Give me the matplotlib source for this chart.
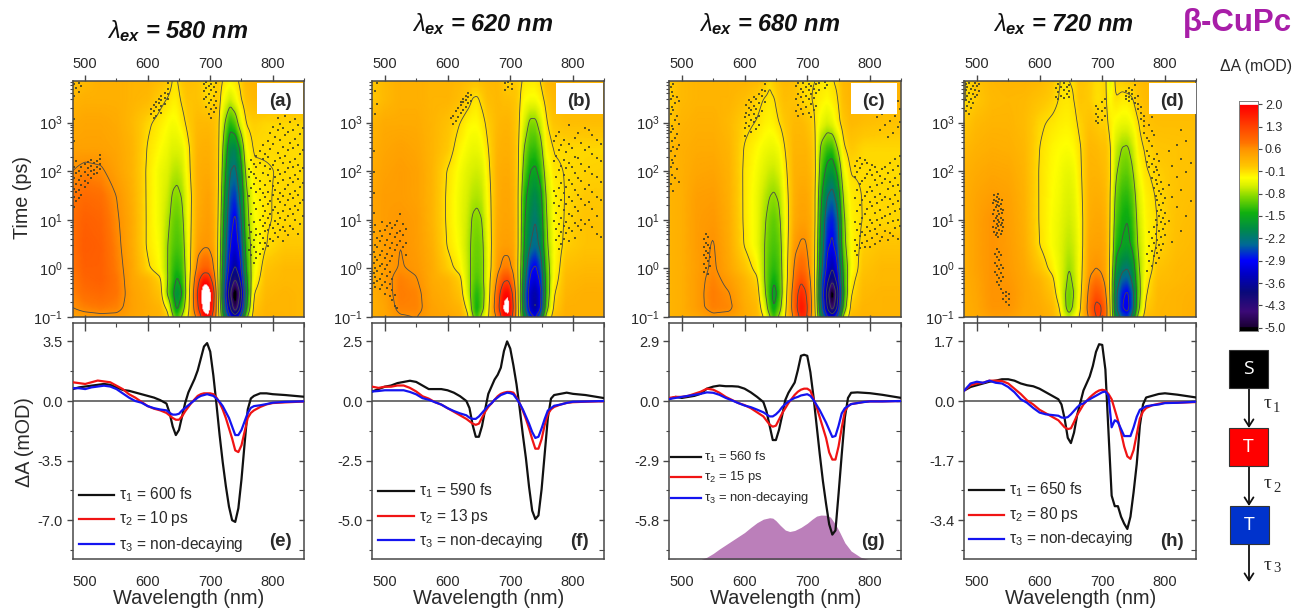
import numpy as np
import matplotlib
matplotlib.use('Agg')
import matplotlib.pyplot as plt
from matplotlib.colors import LinearSegmentedColormap
from matplotlib.lines import Line2D
from matplotlib.patches import Rectangle, FancyArrowPatch

plt.rcParams['font.family'] = ['Liberation Sans', 'DejaVu Sans']
plt.rcParams['mathtext.fontset'] = 'custom'
plt.rcParams['mathtext.rm'] = 'Liberation Sans'
plt.rcParams['mathtext.it'] = 'Liberation Sans:italic'
plt.rcParams['mathtext.bf'] = 'Liberation Sans:bold:italic'

W, H = 1293, 608
TXT = '#2a2a2a'
EDGE = '#484848'

# heatmap grid
map_wl = [480, 500, 525, 550, 575, 600, 620, 632, 640, 647, 655, 665, 680, 690, 697, 705, 713, 722, 732, 740, 748, 758, 770, 790, 820, 850]
map_t = [0.1, 0.15, 0.3, 0.6, 1, 3, 10, 30, 100, 300, 1000, 3000, 7000]

map_a = [
 [.4, .45, .5, .5, .4, .3, .25, .05, -.7, -1.2, -.7, -.05, .75, 1.7, 1.9, 1.0, .1, -1.6, -2.8, -3.2, -2.6, -.9, .15, .25, .25, .2],
 [.6, .7, .75, .7, .45, .35, .25, -.2, -1.1, -1.6, -1.1, -.2, 1.2, 2.2, 2.3, 1.4, .0, -2, -3.6, -4.8, -3.6, -1.5, .05, .25, .25, .2],
 [.7, .85, .9, .8, .45, .3, .1, -.9, -1.4, -1.9, -1.5, -.3, 1.4, 2.5, 2.5, 1.6, -.15, -2.3, -4.2, -5.5, -4.2, -1.8, -.1, .2, .25, .2],
 [.75, .95, 1.0, .8, .4, .25, -.05, -.8, -1.25, -1.55, -1.3, -.35, 1.1, 1.75, 1.7, 1.0, -.2, -2.1, -3.6, -4.3, -3.5, -1.6, -.3, .15, .2, .2],
 [.8, 1, 1, .75, .4, -.05, -.3, -.8, -1.2, -1.35, -1.2, -.35, .75, 1.0, 1.0, .65, -.2, -2.0, -3.2, -3.7, -3.1, -1.4, -.4, .1, .2, .2],
 [.85, 1.05, 1, .7, .35, -.15, -.35, -.8, -1.05, -1.15, -1.05, -.3, .45, .55, .55, .4, -.15, -1.8, -2.9, -3.2, -2.7, -1.2, -.45, -.1, .05, .05],
 [.85, 1, .95, .65, .35, -.15, -.4, -.7, -.95, -1.05, -.9, -.3, .35, .45, .5, .35, -.1, -1.6, -2.7, -3, -2.4, -1, -.35, -.12, -.05, -.05],
 [.8, .9, .85, .6, .3, -.15, -.4, -.6, -.85, -.9, -.78, -.3, .3, .4, .45, .3, -.05, -1.4, -2.5, -2.7, -2.1, -.9, -.3, -.12, -.05, -.05],
 [.6, .7, .65, .45, .25, -.15, -.4, -.5, -.65, -.7, -.6, -.2, .3, .35, .35, .25, .0, -1.2, -2.2, -2.3, -1.8, -.6, -.15, -.12, -.07, -.07],
 [.45, .45, .45, .4, .25, -.12, -.3, -.4, -.5, -.5, -.45, -.15, .25, .3, .3, .2, 0, -1, -1.9, -2, -1.4, -.3, -.07, -.07, -.07, -.07],
 [.35, .4, .4, .35, .2, -.05, -.2, -.3, -.35, -.32, -.2, .0, .2, .2, .2, .15, .0, -.7, -1.3, -1.1, -.5, -.08, 0, -.05, -.05, -.05],
 [.25, .3, .3, .3, .25, .2, -.02, -.12, -.2, -.2, -.05, .1, .1, .0, -.08, -.02, .05, -.35, -.6, -.4, -.15, .1, .2, .2, .2, .2],
 [.1, .2, .3, .3, .25, .25, .15, .05, -.12, -.12, .05, .15, .1, -.05, -.05, -.05, .05, -.15, -.25, -.18, -.05, .2, .25, .25, .25, .25],
]
map_b = [
 [.3, .4, .55, .6, .45, .4, .3, .0, -.7, -1.2, -.6, -.12, .75, 1.7, 1.8, 1.1, -.05, -1.6, -2.6, -2.9, -2.2, -.5, .15, .3, .3, .3],
 [.3, .4, .7, .7, .45, .35, .25, -.2, -1.0, -1.45, -1.0, -.2, 1.1, 2.1, 2.3, 1.3, -.1, -2, -3.2, -3.7, -3.0, -1.0, .0, .3, .3, .3],
 [.3, .45, .75, .7, .4, .3, .1, -.5, -1.05, -1.35, -1.05, -.3, 1.0, 1.85, 1.95, 1.15, -.15, -2.1, -3.3, -3.6, -3.1, -1.2, -.12, .25, .3, .3],
 [.3, .5, .72, .62, .35, .25, -.02, -.6, -.95, -1.15, -.95, -.3, .7, 1.2, 1.25, .7, -.15, -1.9, -3.0, -3.2, -2.8, -1.2, -.25, .2, .25, .25],
 [.3, .5, .62, .55, .35, .02, -.22, -.6, -.95, -1.05, -.95, -.35, .5, .75, .75, .5, -.15, -1.7, -2.8, -3, -2.6, -1.1, -.3, .15, .2, .2],
 [.35, .5, .6, .5, .3, -.12, -.35, -.65, -.9, -1, -.9, -.35, .4, .48, .48, .4, -.1, -1.5, -2.2, -2.4, -2.1, -.9, -.3, .0, .1, .1],
 [.4, .5, .55, .5, .25, -.15, -.4, -.6, -.85, -.9, -.8, -.3, .35, .42, .42, .35, -.1, -1.4, -2.0, -2.2, -1.9, -.8, -.28, -.05, .1, .1],
 [.4, .5, .5, .45, .25, -.15, -.4, -.55, -.68, -.72, -.65, -.25, .3, .4, .4, .3, -.1, -1.3, -1.8, -2.0, -1.7, -.7, -.25, -.07, .05, .05],
 [.35, .45, .5, .45, .25, -.12, -.35, -.48, -.55, -.58, -.52, -.18, .3, .35, .35, .25, -.07, -1.0, -1.5, -1.6, -1.3, -.5, -.15, -.08, -.02, .0],
 [.3, .4, .45, .4, .25, .05, -.25, -.36, -.42, -.42, -.35, -.1, .25, .3, .3, .2, -.05, -.8, -1.2, -1.25, -1.0, -.25, -.08, -.06, -.05, -.05],
 [.25, .35, .35, .35, .25, .12, -.1, -.25, -.28, -.28, -.2, .0, .2, .25, .25, .15, -.02, -.5, -.9, -.9, -.6, -.12, .08, .15, .15, .15],
 [.05, .2, .3, .3, .25, .25, .15, .02, -.12, -.15, -.03, .15, .2, .15, .15, .1, .0, -.3, -.35, -.35, -.25, .02, .2, .25, .25, .25],
 [.05, .2, .3, .3, .25, .25, .2, .15, .1, .1, .15, .2, .2, .05, -.05, .05, .0, -.15, -.18, -.18, -.1, .2, .25, .25, .25, .25],
]
map_c = [
 [.25, .3, .35, .5, .45, .35, .2, -.15, -.7, -1.2, -.7, -.1, .75, 1.5, 1.5, .7, -.05, -1.7, -2.8, -3.1, -2.5, -.6, .2, .25, .25, .25],
 [.25, .3, .5, .72, .68, .35, .2, -.4, -1.1, -1.5, -1.05, -.2, 1.0, 1.8, 1.6, .85, -.15, -2.1, -3.6, -4.6, -3.5, -1.2, .05, .25, .25, .25],
 [.25, .3, .5, .75, .62, .3, .1, -.7, -1.25, -1.7, -1.3, -.3, 1.0, 1.6, 1.4, .75, -.2, -2.3, -3.9, -5.4, -3.9, -1.5, -.12, .2, .25, .25],
 [.25, .3, .5, .7, .5, .25, -.05, -.8, -1.2, -1.45, -1.2, -.35, .8, 1.2, 1.05, .6, -.25, -2.2, -3.4, -4.1, -3.3, -1.4, -.22, .15, .2, .2],
 [.25, .3, .48, .65, .4, .1, -.22, -.8, -1.15, -1.3, -1.15, -.35, .7, .95, .85, .5, -.2, -2.0, -3.1, -3.6, -3.0, -1.3, -.35, .1, .2, .2],
 [.25, .3, .5, .62, .35, -.12, -.4, -.8, -1.05, -1.15, -1.05, -.35, .5, .65, .65, .4, -.15, -1.8, -2.8, -3.0, -2.6, -1.0, -.3, .0, .1, .1],
 [.25, .3, .5, .55, .33, -.15, -.4, -.75, -.95, -1.05, -.9, -.35, .35, .45, .45, .35, -.1, -1.6, -2.6, -2.8, -2.4, -.9, -.25, -.08, -.05, -.05],
 [.25, .3, .48, .5, .3, -.15, -.4, -.65, -.8, -.85, -.75, -.28, .3, .4, .4, .3, -.1, -1.4, -2.2, -2.4, -2.0, -.7, -.2, -.08, -.05, -.05],
 [.2, .3, .4, .42, .28, -.15, -.35, -.5, -.6, -.62, -.52, -.18, .28, .3, .3, .22, -.05, -1.1, -1.7, -1.85, -1.4, -.4, -.08, -.07, -.07, -.07],
 [.2, .3, .35, .35, .25, -.12, -.28, -.38, -.42, -.42, -.35, -.08, .25, .25, .25, .15, -.08, -.9, -1.2, -1.25, -.8, -.15, .05, -.05, -.05, -.05],
 [.05, .25, .3, .3, .2, -.02, -.12, -.22, -.25, -.22, -.1, .05, .2, .2, .15, .05, -.12, -.4, -.55, -.45, -.22, .05, .2, .15, .1, .1],
 [.0, .2, .25, .25, .25, .15, -.02, -.12, -.15, -.12, .03, .15, .12, .0, -.08, -.08, -.15, -.22, -.28, -.22, -.12, .15, .25, .25, .25, .25],
 [.0, .2, .25, .25, .25, .25, .2, .05, -.08, .02, .1, .2, .15, -.06, -.08, -.08, -.1, -.15, -.18, -.12, -.05, .2, .25, .25, .25, .25],
]
map_d = [
 [.3, .35, .45, .45, .35, .35, .25, .0, -.4, -.65, -.35, -.02, .7, 1.3, 1.3, .9, -.1, -1.8, -2.4, -2.6, -2.0, -.5, .15, .22, .25, .3],
 [.3, .38, .58, .58, .4, .35, .22, -.1, -.7, -1.0, -.7, -.12, .9, 1.45, 1.4, .95, -.15, -2.1, -2.9, -3.1, -2.5, -.9, .02, .22, .25, .3],
 [.3, .4, .6, .6, .42, .3, .1, -.3, -.75, -1.0, -.8, -.2, .8, 1.15, 1.05, .7, -.2, -2.1, -2.8, -3.0, -2.5, -1.0, -.12, .2, .25, .28],
 [.3, .42, .6, .55, .4, .25, -.02, -.4, -.65, -.9, -.7, -.25, .62, .8, .75, .5, -.25, -1.9, -2.4, -2.5, -2.1, -.95, -.2, .15, .2, .25],
 [.3, .45, .6, .52, .38, .1, -.2, -.42, -.62, -.8, -.65, -.25, .5, .6, .55, .4, -.2, -1.65, -2.1, -2.2, -1.9, -.85, -.3, .1, .2, .22],
 [.3, .45, .6, .5, .33, -.1, -.32, -.45, -.58, -.66, -.58, -.28, .42, .45, .45, .35, -.15, -1.3, -1.55, -1.65, -1.4, -.7, -.3, -.05, .15, .2],
 [.3, .45, .6, .48, .3, -.12, -.32, -.42, -.52, -.58, -.5, -.25, .32, .38, .38, .28, -.12, -1.1, -1.4, -1.5, -1.25, -.6, -.25, -.08, .12, .18],
 [.3, .42, .5, .45, .28, -.12, -.3, -.38, -.47, -.52, -.45, -.2, .28, .32, .3, .22, -.1, -.95, -1.25, -1.3, -1.1, -.5, -.22, -.05, .1, .15],
 [.28, .35, .4, .38, .25, -.12, -.28, -.34, -.42, -.44, -.38, -.15, .25, .25, .22, .15, -.05, -.75, -1.0, -1.05, -.85, -.35, -.12, .0, .1, .12],
 [.2, .28, .32, .3, .22, -.1, -.25, -.3, -.32, -.32, -.28, -.12, .22, .2, .15, .12, -.08, -.6, -.82, -.85, -.65, -.2, -.05, .08, .1, .12],
 [.05, .2, .25, .25, .18, -.05, -.15, -.2, -.22, -.22, -.18, -.02, .12, .05, .0, .0, -.2, -.35, -.42, -.42, -.32, -.1, .1, .15, .15, .15],
 [-.12, .05, .2, .22, .2, .1, .0, -.12, -.15, -.15, -.1, .08, .02, -.1, -.1, -.05, -.3, -.12, -.18, -.18, -.12, .08, .18, .2, .2, .2],
 [-.12, .1, .22, .25, .25, .2, .08, -.1, -.12, -.1, -.08, .1, .02, -.08, -.08, -.03, -.5, .0, .0, .05, .05, .15, .2, .2, .2, .2],
]

# noisy dots seen around the contours, one entry per wavelength column: (wavelength, times)
speck_a = [
 (762, [2.4, 4.3, 7.7, 31, 77, 112]), (765, [1.9, 3.1, 5.6, 13, 46, 98, 171]), (770, [1.3, 2.7, 3.9, 8.9, 22, 54, 88, 140]),
 (774, [1.6, 2.2, 4.8, 6.6, 17, 38, 71, 123, 205]), (779, [2.0, 3.4, 5.1, 10, 26, 43, 64, 150, 260]), (784, [2.5, 4.2, 7.3, 12, 19, 35, 92, 180, 340]),
 (788, [3.3, 5.9, 8.7, 15, 29, 51, 128, 230]), (792, [2.9, 6.1, 11, 21, 37, 83, 197, 420]), (796, [4.1, 7.9, 13, 24, 62, 110, 290, 610]),
 (800, [3.6, 6.9, 16, 33, 49, 133, 360, 830]), (804, [5.3, 9.4, 18, 41, 75, 165, 510]), (808, [4.4, 8.1, 14, 27, 58, 104, 240, 690, 1250]),
 (812, [6.2, 11, 23, 36, 86, 190, 440, 950]), (816, [3.7, 7.1, 15, 31, 67, 145, 320, 780]), (820, [5.8, 10, 20, 44, 95, 210, 550, 1400]),
 (824, [4.9, 12, 25, 53, 118, 270, 640]), (828, [7.5, 17, 34, 72, 156, 380, 1050]), (832, [6.6, 13, 28, 60, 125, 300, 720]),
 (836, [9.8, 19, 39, 82, 175, 470, 1180]), (840, [5.2, 16, 32, 69, 135, 350, 880]), (844, [8.4, 22, 47, 100, 225, 580]), (848, [12, 26, 56, 115, 280, 760]),
 (482, [18, 29, 44, 73, 125, 410, 1200, 3600, 6200]), (486, [24, 37, 55, 90, 160, 5100]), (490, [28, 41, 66, 103, 4300, 6500]), (494, [33, 52, 78, 120, 5600]),
 (499, [47, 63, 95, 138]), (504, [58, 84, 116, 152]), (509, [72, 99, 131, 170]), (514, [88, 108, 146]), (519, [94, 124, 160]), (524, [110, 138, 180, 215]),
 (606, [1500, 1900]), (610, [1250, 1700, 2300]), (614, [1400, 2100, 2700]), (618, [1800, 2500, 3000]), (622, [1600, 2200, 2900, 3500]), (627, [2400, 3200, 4100]), (632, [3000, 3800, 5000, 6400]),
 (690, [3100, 4500, 6100]), (694, [2100, 3300, 5200, 6800]), (698, [1500, 2500, 3900, 5800]), (702, [1250, 1900, 2900, 4700, 6300]), (706, [1650, 2300, 3500, 5400]), (710, [2000, 2800, 4200, 6600]),
]
speck_b = [
 (770, [9.5, 22, 40, 160, 410]), (773, [3.8, 6.6, 14, 31, 75, 210, 520]), (777, [2.5, 4.6, 8.4, 19, 46, 105, 280, 640]), (781, [3.2, 5.7, 11, 26, 58, 130, 340]),
 (785, [4.1, 7.3, 16, 36, 83, 170, 430]), (789, [5.3, 9.2, 21, 48, 115, 250]), (793, [3.6, 6.9, 13, 29, 66, 150, 370, 900]), (798, [5.9, 12, 24, 54, 125, 300]),
 (803, [4.3, 8.8, 18, 41, 92, 200, 480]), (808, [7.5, 15, 33, 72, 185, 610]), (813, [6.1, 10, 27, 63, 140, 390]), (819, [8.2, 20, 44, 100, 270, 780]),
 (825, [9.9, 23, 52, 120, 320, 700]), (831, [7.0, 17, 38, 88, 230, 560]), (838, [5.0, 12, 30, 76, 190, 450]), (845, [4.5, 25, 60, 160, 360]),
 (482, [0.5, 0.8, 1.3, 2.2, 5.5, 14, 36, 95, 260]), (485, [0.42, 0.68, 1.0, 1.7, 3.1, 7.7, 1500, 4400]), (488, [0.55, 0.9, 1.5, 2.7, 4.2, 2400, 6400]), (492, [0.37, 0.62, 1.1, 1.9, 3.6, 5.8]),
 (496, [0.46, 0.75, 1.25, 2.3, 4.7, 9]), (500, [0.3, 0.52, 0.95, 1.6, 3.0, 6.2]), (504, [0.4, 0.7, 1.15, 2.0, 3.9, 7.3]), (508, [0.27, 0.48, 0.85, 1.4, 2.6, 5.1, 8.8]),
 (512, [0.22, 0.36, 0.6, 1.8, 3.4, 6.7]), (516, [0.17, 0.29, 2.4, 4.4, 7.9]), (520, [0.15, 3.1, 5.4, 9.4]), (524, [3.7, 6.0, 13]), (529, [2.7, 4.9, 8.3]), (534, [1.9, 3.3, 6.5]),
 (605, [1250]), (609, [950, 1400]), (613, [1100, 1700]), (617, [1300, 2000]), (621, [1550, 2300, 2700]), (625, [1800, 2600, 3100]), (629, [2100, 2900, 3600]), (633, [2500, 3300, 4100]), (637, [2800, 3700]),
 (692, [4700, 6400]), (697, [5400, 6900]), (702, [5000, 6100]),
]
speck_c = [
 (776, [2.3, 3.9, 9, 28, 76, 130]), (780, [1.9, 3.1, 6.2, 15, 42, 95, 160]), (784, [2.6, 4.6, 8.3, 20, 55, 115, 190]), (788, [3.4, 5.5, 11, 25, 64, 140]),
 (792, [2.8, 4.9, 13, 31, 72, 170]), (796, [3.7, 7.1, 17, 37, 88, 150]), (800, [2.7, 5.9, 10, 23, 47, 105]), (804, [4.2, 8.7, 19, 40, 82, 135]),
 (808, [3.2, 6.6, 14, 29, 66, 120]), (812, [5.1, 9.8, 22, 51, 98, 1300]), (816, [3.6, 7.8, 16, 34, 78, 700]), (820, [4.4, 11, 26, 58, 110, 1500]),
 (824, [6.0, 12, 30, 68, 125, 900]), (828, [3.9, 8.5, 18, 44, 92, 500, 1800]), (832, [5.3, 13, 27, 60, 145, 1100]), (836, [4.7, 9.4, 21, 49, 105, 620, 2400]),
 (840, [6.8, 15, 33, 74, 180, 1400]), (844, [4.1, 10, 24, 53, 130, 800, 2800]), (848, [7.3, 17, 39, 86, 210, 1050, 1900]),
 (482, [55, 120, 260, 640, 1500, 3100, 5300]), (484, [85, 170, 410, 850, 2100, 4200]), (486, [40, 150, 320, 730, 1800, 3600, 6200]), (489, [72, 210, 480, 1150, 2500]),
 (492, [110, 290, 590, 1350, 3300]), (495, [60, 340, 950, 2800]),
 (536, [0.85, 1.25, 1.9, 2.8, 4.1]), (539, [1.0, 1.6, 2.3, 3.3, 5.0]), (542, [0.75, 1.4, 2.1, 3.0, 4.5]), (545, [1.1, 1.7, 2.6]),
 (600, [520, 780, 1300]), (603, [1000, 1600, 2300]), (607, [850, 1450, 2000, 2900]), (611, [640, 1150, 1800, 2700]), (615, [1050, 1500, 2200, 3300]), (619, [730, 1250, 1950, 3000]),
 (623, [900, 1400, 2500, 3800]), (628, [1700, 3500, 4800]), (633, [2600, 4400, 6100]),
 (682, [1700, 3100, 5700]), (686, [1400, 2300, 3900, 6400]), (690, [1900, 3300, 4900]), (694, [1500, 2700, 4300, 6700]), (698, [2100, 3600, 5400]), (702, [1600, 3000, 4600, 6100]),
 (706, [1300, 2400, 3800, 5800]), (710, [1800, 3200, 5000]), (714, [2200, 4000, 6300]), (718, [4800, 6600]), (728, [5200, 6800]), (732, [6000]),
]
speck_d = [
 (771, [0.9, 2.0, 155, 260, 480]), (775, [1.4, 2.9, 5.6, 120, 210, 410, 900]), (779, [1.1, 2.3, 4.2, 72, 140, 330, 680, 1300]), (782, [1.8, 3.4, 7.2, 46, 95, 180, 560]),
 (785, [1.3, 2.6, 5.0, 10, 31, 66, 125]), (788, [2.1, 3.8, 7.9, 15, 25, 55, 105, 230]), (791, [1.6, 3.0, 5.9, 12, 20, 39, 82, 160]), (794, [2.4, 4.5, 9, 16, 34, 60]),
 (797, [3.2, 6.6, 11, 22, 44]), (800, [4.8, 8.3, 14, 28]), (806, [9.5, 52, 260]), (812, [3.5, 30, 130]), (820, [18, 75, 350]), (826, [6.0, 42, 180, 700]), (834, [12, 95, 420]), (842, [24, 150]),
 (526, [7.1, 13, 22]), (528, [5.7, 9.4, 16, 26, 32]), (530, [4.9, 6.8, 11, 18, 24]), (532, [5.4, 8.1, 12, 20, 29]), (534, [4.5, 7.4, 10, 15, 23, 34]), (536, [6.3, 9, 13, 19, 27]),
 (538, [5.1, 7.7, 11, 17, 21]), (540, [6.0, 8.7, 14, 25]), (542, [7.0, 10, 16]), (529, [0.85, 1.3, 2.0]), (532, [0.52, 0.72, 1.1, 1.7, 2.5]), (535, [0.45, 0.64, 0.95, 1.5, 2.2]),
 (538, [0.38, 0.56, 0.82, 1.2, 1.9]), (541, [0.24, 0.31, 0.68, 1.0]), (546, [0.2, 0.27, 0.33]), (551, [0.18, 0.23, 0.3]),
 (482, [1700, 2900, 4600, 6300]), (485, [2200, 3500, 5400]), (488, [1500, 2600, 4100, 6700]), (491, [2000, 3100, 5000]), (494, [2500, 3900, 5800]), (497, [3300, 4800, 6400]), (500, [3700, 5600]), (503, [4400, 6100]),
 (626, [3400, 5100]), (630, [3100, 4300, 6200]), (634, [3600, 5500]), (639, [3200, 4600, 6500]), (643, [3800, 5300]), (647, [3300, 4400, 6000]),
 (690, [1100, 1500, 2200]), (694, [1000, 1300, 1900]), (699, [1150, 1700, 2600]), (704, [1400, 2000, 3100]), (738, [3000, 3600, 4500]), (743, [2800, 3300, 4100, 5200]), (748, [3000, 3900, 4700]), (752, [2500, 3200, 6000]), (757, [1900, 2400, 3500]), (762, [1200, 1600, 2100]), (766, [600, 860, 1100, 1400]),
]

# kinetic spectra
spec_wl = [480, 490, 500, 510, 520, 530, 540, 550, 560, 570, 580, 590, 600, 610, 620, 630, 635, 640, 645, 650, 655, 660, 665, 670, 675, 680, 685, 690, 695, 700, 705, 710, 715, 720, 725, 730, 735, 740, 745, 750, 755, 760, 765, 770, 780, 790, 800, 820, 850]

e_black = [.7, .8, .85, .9, .95, 1.0, .95, .8, .65, .6, .5, .4, .3, .2, .05, -.15, -.7, -1.5, -2.0, -1.7, -.9, -.1, .5, .9, 1.3, 1.8, 2.5, 3.2, 3.4, 2.9, 1.5, -.2, -2, -3.6, -5, -6.2, -7.0, -7.1, -6.3, -4.6, -2.5, -.5, .15, .3, .45, .45, .4, .35, .25]
e_red = [1.1, 1.05, 1.0, 1.1, 1.2, 1.15, 1.1, .9, .7, .4, .2, -.05, -.3, -.45, -.55, -.7, -.85, -1.0, -1.1, -1.1, -.9, -.6, -.35, -.1, .1, .3, .4, .45, .45, .45, .4, .2, -.1, -.5, -1.0, -1.6, -2.2, -2.9, -3.0, -2.6, -1.8, -1.0, -.7, -.55, -.35, -.2, -.12, -.08, -.03]
e_blue = [.75, .75, .7, .8, .85, .9, .85, .7, .45, .2, 0, -.1, -.3, -.42, -.5, -.55, -.7, -.8, -.8, -.75, -.55, -.4, -.25, -.1, .05, .2, .3, .35, .4, .35, .3, .15, -.05, -.3, -.65, -1.0, -1.5, -2.0, -2.0, -1.7, -1.2, -.7, -.4, -.3, -.25, -.18, -.1, -.05, -.02]

f_black = [.4, .5, .6, .65, .75, .8, .85, .8, .65, .5, .5, .5, .45, .35, .2, .0, -.3, -1.0, -1.5, -1.5, -1.05, -.35, .3, .6, .9, 1.1, 1.4, 2.1, 2.5, 2.2, 1.5, .7, -.3, -1.4, -2.4, -3.6, -4.6, -4.95, -4.8, -3.7, -2.2, -.7, .1, .25, .3, .35, .3, .25, .12]
f_red = [.6, .55, .6, .6, .65, .65, .55, .4, .2, .1, -.05, -.15, -.3, -.45, -.6, -.75, -.85, -.95, -1, -.95, -.7, -.45, -.25, -.1, .05, .2, .3, .35, .38, .38, .35, .15, -.1, -.4, -.75, -1.15, -1.6, -2, -2, -1.6, -1, -.55, -.35, -.25, -.15, -.08, -.05, -.03, -.01]
f_blue = [.4, .42, .45, .45, .45, .45, .38, .28, .12, .05, -.05, -.15, -.3, -.42, -.52, -.6, -.7, -.75, -.75, -.65, -.5, -.35, -.2, -.1, .05, .15, .25, .3, .35, .33, .28, .1, -.1, -.35, -.65, -.95, -1.3, -1.55, -1.5, -1.15, -.75, -.4, -.3, -.2, -.15, -.08, -.03, -.02, 0]

g_black = [.1, .2, .15, .2, .25, .35, .6, .7, .75, .72, .72, .7, .6, .42, .2, -.05, -.5, -1.2, -1.9, -1.9, -1.4, -.7, .05, .4, .65, .9, 1.5, 2.2, 2.25, 2.2, 1.4, .2, -1.2, -2.6, -3.9, -5, -6, -6.5, -6.3, -4.5, -2.6, -.8, .15, .4, .42, .4, .38, .3, .15]
g_red = [.15, .2, .2, .25, .35, .45, .6, .55, .4, .2, .05, -.1, -.2, -.35, -.55, -.75, -.95, -1.15, -1.25, -1.2, -.9, -.6, -.35, -.1, .1, .3, .45, .55, .6, .6, .5, .1, -.3, -.8, -1.3, -1.8, -2.5, -2.85, -2.85, -2.2, -1.3, -.5, -.25, -.15, -.1, -.05, -.02, -.02, 0]
g_blue = [.1, .15, .2, .25, .3, .35, .42, .4, .3, .15, .03, -.1, -.22, -.3, -.42, -.55, -.65, -.75, -.75, -.65, -.5, -.3, -.15, -.03, .07, .15, .2, .27, .3, .33, .25, .05, -.2, -.45, -.75, -1.05, -1.4, -1.75, -1.7, -1.2, -.6, -.35, -.25, -.15, -.1, -.05, -.02, -.02, 0]

h_black = [.3, .4, .45, .5, .55, .58, .62, .62, .58, .5, .45, .42, .35, .25, .15, .05, -.1, -.5, -1.05, -1.2, -.9, -.4, -.05, .3, .5, .7, 1, 1.4, 1.62, 1.6, .9, -.9, -2.7, -3.0, -3.0, -3.3, -3.5, -3.65, -3.3, -2.6, -1.8, -.7, -.1, .1, .15, .2, .22, .18, .1]
h_red = [.3, .45, .5, .52, .58, .58, .57, .5, .35, .2, .02, -.1, -.25, -.35, -.45, -.55, -.65, -.75, -.8, -.78, -.6, -.4, -.25, -.1, 0, .1, .18, .25, .3, .32, .3, .2, .05, -.25, -.55, -.9, -1.3, -1.58, -1.65, -1.4, -.95, -.5, -.3, -.2, -.12, -.08, -.05, -.05, -.03]
h_blue = [.3, .5, .55, .52, .58, .52, .5, .4, .25, .05, -.05, -.2, -.33, -.38, -.4, -.42, -.47, -.48, -.46, -.38, -.28, -.18, -.1, -.07, 0, .05, .1, .15, .2, .25, .27, .15, -.75, -.55, -.6, -.8, -1, -1.0, -1.0, -.75, -.45, -.25, -.2, -.15, -.12, -.1, -.06, -.05, -.02]

# absorption band drawn in (g), on the dA axis
abs_wl = [480, 490, 492, 520, 530, 540, 550, 560, 575, 590, 600, 610, 620, 630, 640, 645, 650, 657, 665, 672, 680, 690, 700, 708, 715, 722, 730, 737, 745, 752, 760, 770, 785, 805]
abs_y = [-7.7, -7.7, -7.78, -7.77, -7.72, -7.6, -7.42, -7.2, -6.9, -6.6, -6.4, -6.15, -5.92, -5.75, -5.68, -5.7, -5.82, -6.05, -6.28, -6.35, -6.3, -6.15, -5.95, -5.75, -5.6, -5.55, -5.56, -5.65, -6.0, -6.4, -6.9, -7.3, -7.6, -7.78]

titles = ['580', '620', '680', '720']
title_pos = [(178, 31), (483, 24), (770, 24), (1063, 24)]
panel_x = [(72.7, 304), (372.3, 604.3), (669.3, 901.3), (964.3, 1196.3)]
tick_vals = [3.5, 2.5, 2.9, 1.7]
tick_fmt = [['3.5', '0.0', '-3.5', '-7.0'], ['2.5', '0.0', '-2.5', '-5.0'], ['2.9', '0.0', '-2.9', '-5.8'], ['1.7', '0.0', '-1.7', '-3.4']]
letters_top = ['(a)', '(b)', '(c)', '(d)']
letters_low = ['(e)', '(f)', '(g)', '(h)']
tau1 = ['600 fs', '590 fs', '560 fs', '650 fs']
tau2 = ['10 ps', '13 ps', '15 ps', '80 ps']
maps = [map_a, map_b, map_c, map_d]
specks = [speck_a, speck_b, speck_c, speck_d]
blacks = [e_black, f_black, g_black, h_black]
reds = [e_red, f_red, g_red, h_red]
blues = [e_blue, f_blue, g_blue, h_blue]
legend_rows = [(495, 519, 544), (491, 516, 540), (457, 477, 498), (490, 515, 539)]
legend_x = [(79, 114, 119), (378, 414, 419), (671, 701, 704), (969, 1004, 1009)]
legend_size = [11.2, 11.2, 9.4, 11.2]
label_box = [(257, 303), (556, 603), (851, 897), (1149, 1196)]
label_cx = [280, 579, 873, 1172]

cmap_pts = [(-5.0, '#1a0033'), (-4.5, '#3c0a78'), (-3.9, '#0a0a7a'), (-3.3, '#0000c8'), (-2.9, '#0000ff'),
            (-2.4, '#006a96'), (-1.9, '#008c46'), (-1.4, '#10b010'), (-0.9, '#80d800'), (-0.55, '#d8f000'),
            (-0.3, '#ffff00'), (-0.1, '#ffe000'), (0.05, '#ffc800'), (0.3, '#ffb000'), (0.6, '#ff9400'), (0.8, '#ff7400'),
            (1.3, '#ff4400'), (1.8, '#ff1000'), (2.0, '#ff0000')]
cmap = LinearSegmentedColormap.from_list('tas', [((v + 5) / 7, c) for v, c in cmap_pts], N=512)
cmap.set_over('white')
cmap.set_under('black')
levels = [-4.3, -3.6, -2.9, -2.2, -1.5, -0.8, -0.1, 0.6, 1.3]


def ax_px(x0, y0, x1, y1):
    return fig.add_axes([x0 / W, 1 - y1 / H, (x1 - x0) / W, (y1 - y0) / H])


def style(ax):
    for s in ax.spines.values():
        s.set_color(EDGE)
        s.set_linewidth(1.1)


def refine(m):
    # fine grid in wavelength and log time, the reading grid is too coarse for contours
    fx = np.arange(480, 851, 1.5)
    fy = np.linspace(-1, np.log10(7200), 220)
    ly = np.log10(map_t)
    m = np.array(m, float)
    a = np.array([np.interp(fx, map_wl, r) for r in m])
    b = np.array([np.interp(fy, ly, c) for c in a.T]).T
    k = np.ones(3) / 3
    pad = np.pad(b, 1, mode='edge')
    s = np.apply_along_axis(lambda v: np.convolve(v, k, mode='same'), 1, pad)
    s = np.apply_along_axis(lambda v: np.convolve(v, np.ones(7) / 7, mode='same'), 0, np.pad(s, ((3, 3), (0, 0)), mode='edge'))[3:-3]
    return fx, 10 ** fy, s[1:-1, 1:-1]


fig = plt.figure(figsize=(W / 100, H / 100), dpi=100, facecolor='white')

for i in range(4):
    x0, x1 = panel_x[i]

    ax = ax_px(x0, 81, x1, 317)
    fx, ft, z = refine(maps[i])
    ax.pcolormesh(fx, ft, z, cmap=cmap, vmin=-5, vmax=2, shading='gouraud', rasterized=True)
    ax.contour(fx, ft, z, levels=levels, colors='#4a4a4a', linewidths=0.6, linestyles='solid')
    for wl, ts in specks[i]:
        ax.scatter([wl] * len(ts), ts, s=0.55, marker='s', c='#3a3a22', alpha=0.8, linewidths=0)
    ax.set_yscale('log')
    ax.set_xlim(480, 850)
    ax.set_ylim(0.1, 7200)
    ax.set_yticks([0.1, 1, 10, 100, 1000])
    ax.set_yticklabels([r'$\mathregular{10^{-1}}$', r'$\mathregular{10^{0}}$', r'$\mathregular{10^{1}}$', r'$\mathregular{10^{2}}$', r'$\mathregular{10^{3}}$'])
    ax.xaxis.tick_top()
    ax.set_xticks([500, 600, 700, 800])
    ax.set_xticks([550, 650, 750, 850], minor=True)
    ax.tick_params(axis='both', which='major', length=4, width=1, color=EDGE, labelsize=10.5, labelcolor=TXT, pad=3)
    ax.tick_params(axis='both', which='minor', length=2, width=0.8, color=EDGE)
    ax.tick_params(axis='y', which='minor', left=True, labelleft=False)
    style(ax)
    bx0, bx1 = label_box[i]
    fig.patches.append(Rectangle((bx0 / W, 1 - 114 / H), (bx1 - bx0) / W, 31 / H, transform=fig.transFigure, fc='white', ec='none', zorder=5))
    fig.text(label_cx[i] / W, 1 - 102 / H, letters_top[i], fontsize=13.5, fontweight='bold', color=TXT, ha='center', va='center', zorder=6)

    low = ax_px(x0, 323, x1, 559)
    tv = tick_vals[i]
    if i == 2:
        low.fill_between(abs_wl, abs_y, -7.78, color='#bb7fba', lw=0, zorder=1)
    low.axhline(0, color='#4a4a4a', lw=1.1, zorder=2)
    low.plot(spec_wl, blacks[i], color='#111111', lw=1.6, zorder=3)
    low.plot(spec_wl, reds[i], color='#f01414', lw=1.6, zorder=4)
    low.plot(spec_wl, blues[i], color='#1414f0', lw=1.6, zorder=5)
    low.set_xlim(480, 850)
    low.set_ylim(-tv * 158 / 59.6, tv * 78 / 59.6)
    low.set_xticks([500, 600, 700, 800])
    low.set_xticks([550, 650, 750, 850], minor=True)
    low.set_yticks([tv, 0, -tv, -2 * tv])
    low.set_yticklabels(tick_fmt[i])
    low.set_yticks([tv / 2, -tv / 2, -3 * tv / 2, -5 * tv / 2], minor=True)
    low.tick_params(axis='x', which='major', bottom=False, top=True, direction='inout', length=11, width=1, color=EDGE, labelsize=10.5, labelcolor=TXT, pad=6)
    low.tick_params(axis='x', which='minor', bottom=False, top=True, direction='in', length=3, width=0.8, color=EDGE)
    low.tick_params(axis='y', which='major', left=True, right=True, length=4, width=1, color=EDGE, labelsize=10.5, labelcolor=TXT, pad=3)
    low.tick_params(axis='y', which='minor', left=True, right=True, length=2.5, width=0.8, color=EDGE)
    for t in low.yaxis.get_major_ticks() + low.yaxis.get_minor_ticks():
        t.tick2line.set_marker(0)
        t.tick2line.set_markersize(3.5)
    style(low)

    fig.text(label_cx[i] / W, 1 - 542 / H, letters_low[i], fontsize=13.5, fontweight='bold', color=TXT, ha='center', va='center', zorder=6)
    fig.text((x0 + x1) / 2 / W, 1 - 598 / H, 'Wavelength (nm)', fontsize=14.4, color=TXT, ha='center', va='center')

    lx0, lx1, tx = legend_x[i]
    rows = legend_rows[i]
    names = [r'$\mathrm{\tau}_1$ = ' + tau1[i], r'$\mathrm{\tau}_2$ = ' + tau2[i], r'$\mathrm{\tau}_3$ = non-decaying']
    for ry, nm, col in zip(rows, names, ['#111111', '#f01414', '#1414f0']):
        fig.add_artist(Line2D([lx0 / W, lx1 / W], [1 - ry / H, 1 - ry / H], color=col, lw=1.6, zorder=6))
        fig.text(tx / W, 1 - ry / H, nm, fontsize=legend_size[i], color=TXT, ha='left', va='center', zorder=6)

    cx, cy = title_pos[i]
    fig.text(cx / W, 1 - cy / H, r'$\mathit{\lambda}_{\mathbf{ex}}$ = ' + titles[i] + ' nm', fontsize=17, fontweight='bold', fontstyle='italic', color='#111111', ha='center', va='center')

fig.text(22 / W, 1 - 198 / H, 'Time (ps)', fontsize=14.2, color=TXT, rotation=90, ha='center', va='center')
fig.text(24 / W, 1 - 442 / H, '\u0394A (mOD)', fontsize=14.2, color=TXT, rotation=90, ha='center', va='center')

# right column
fig.text(1237 / W, 1 - 23 / H, '\u03b2-CuPc', fontsize=22.5, fontweight='bold', color='#a81ea8', ha='center', va='center')
fig.text(1256 / W, 1 - 66 / H, '\u0394A (mOD)', fontsize=11.3, color=TXT, ha='center', va='center')

cbar_ticks = [2.0, 1.3, 0.6, -0.1, -0.8, -1.5, -2.2, -2.9, -3.6, -4.3, -5.0]
cb = ax_px(1239, 101, 1258, 331)
ramp = np.linspace(-5.1, 2.1, 300).reshape(-1, 1)
cb.imshow(ramp, origin='lower', aspect='auto', cmap=cmap, vmin=-5, vmax=2, extent=[0, 1, -5.1, 2.1])
cb.set_xticks([])
cb.yaxis.tick_right()
cb.set_yticks(cbar_ticks)
cb.set_yticklabels(['%.1f' % v for v in cbar_ticks])
cb.tick_params(axis='y', length=3, width=0.8, color=EDGE, labelsize=9, labelcolor=TXT, pad=2)
for s in cb.spines.values():
    s.set_color('#808080')
    s.set_linewidth(0.7)

boxes = [(1229, 350, 1268, 388, '#000000', 'S'), (1229, 428, 1268, 466, '#ff0000', 'T'), (1230, 506, 1269, 544, '#0033cc', 'T')]
for bx0, by0, bx1, by1, col, ch in boxes:
    fig.patches.append(Rectangle((bx0 / W, 1 - by1 / H), (bx1 - bx0) / W, (by1 - by0) / H, transform=fig.transFigure, fc=col, ec='#333333', lw=0.8))
    fig.text((bx0 + bx1) / 2 / W, 1 - (by0 + by1) / 2 / H, ch, fontsize=14, family='Open Sans', color='white', ha='center', va='center')

arrows = [(1249, 388, 428), (1249, 466, 506), (1249, 544, 582)]
for ax_x, ya, yb in arrows:
    fig.add_artist(FancyArrowPatch((ax_x / W, 1 - ya / H), (ax_x / W, 1 - yb / H), transform=fig.transFigure,
                   arrowstyle='->,head_length=5,head_width=3.2', color='#111111', lw=1.3, shrinkA=0, shrinkB=0, mutation_scale=1))
for tx_, ty_, n in [(1264, 404, '1'), (1264, 484, '2'), (1264, 565, '3')]:
    fig.text(tx_ / W, 1 - ty_ / H, '\u03c4', fontsize=14, family='Liberation Serif', color=TXT, ha='left', va='center')
    fig.text((tx_ + 9) / W, 1 - (ty_ + 4) / H, n, fontsize=10.5, family='Liberation Serif', color=TXT, ha='left', va='center')

fig.savefig('out.png', dpi=100)
